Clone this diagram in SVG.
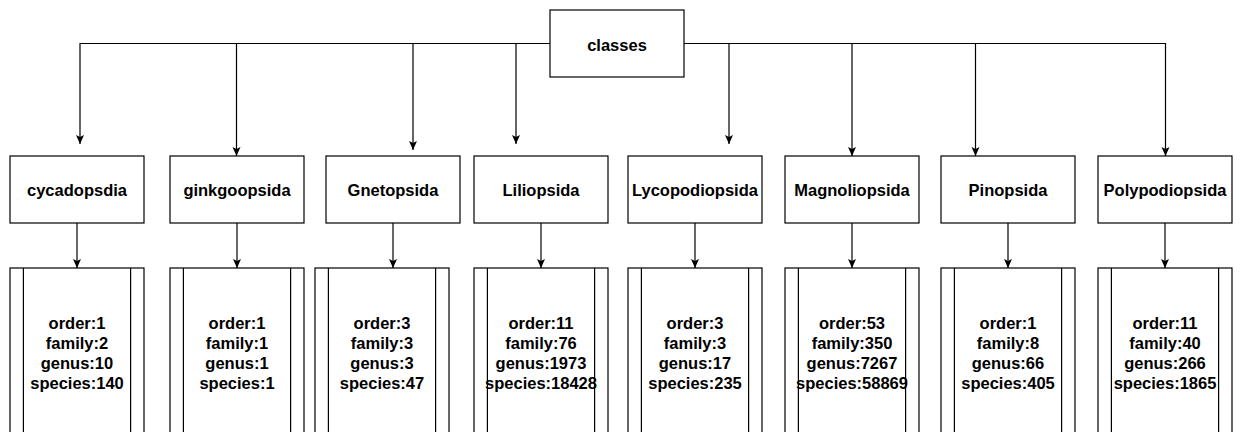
<svg xmlns="http://www.w3.org/2000/svg" width="1240" height="432" viewBox="0 0 1240 432">
<style>
.box{fill:#fff;stroke:#000;stroke-width:1.2}
.in{fill:none;stroke:#000;stroke-width:1.2}
.lbl{font-family:"Liberation Sans",Arial,Helvetica,sans-serif;font-weight:bold;font-size:16.5px;fill:#000;text-anchor:middle}
.edge{fill:none;stroke:#000;stroke-width:1.2}
</style>
<defs>
<marker id="arr" markerUnits="userSpaceOnUse" markerWidth="10" markerHeight="10" refX="9" refY="4" orient="auto">
<path d="M0,0 L9,4 L0,8 L2,4 z" fill="#000"/>
</marker>
</defs>
<rect width="1240" height="432" fill="#fff"/>
<g id="connectors">
<path class="edge" d="M550,43.5 H80 V144" marker-end="url(#arr)"/>
<path class="edge" d="M550,43.5 H236.5 V156" marker-end="url(#arr)"/>
<path class="edge" d="M550,43.5 H413 V150" marker-end="url(#arr)"/>
<path class="edge" d="M550,43.5 H516 V144" marker-end="url(#arr)"/>
<path class="edge" d="M684,43.5 H729 V144" marker-end="url(#arr)"/>
<path class="edge" d="M684,43.5 H852 V156" marker-end="url(#arr)"/>
<path class="edge" d="M684,43.5 H975.5 V156" marker-end="url(#arr)"/>
<path class="edge" d="M684,43.5 H1165.5 V156" marker-end="url(#arr)"/>
<path class="edge" d="M77,223 V268" marker-end="url(#arr)"/>
<path class="edge" d="M237,223 V268" marker-end="url(#arr)"/>
<path class="edge" d="M393,223 V268" marker-end="url(#arr)"/>
<path class="edge" d="M541,223 V268" marker-end="url(#arr)"/>
<path class="edge" d="M695,223 V268" marker-end="url(#arr)"/>
<path class="edge" d="M852,223 V268" marker-end="url(#arr)"/>
<path class="edge" d="M1008,223 V268" marker-end="url(#arr)"/>
<path class="edge" d="M1165,223 V268" marker-end="url(#arr)"/>
</g>
<g id="classes">
<rect class="box" x="550" y="10" width="134" height="67"/>
<text class="lbl" x="617" y="51">classes</text>
</g>
<g id="cycadopsdia"><rect class="box" x="10" y="156" width="134" height="67"/><text class="lbl" x="77" y="196">cycadopsdia</text></g>
<g id="ginkgoopsida"><rect class="box" x="170" y="156" width="134" height="67"/><text class="lbl" x="237" y="196">ginkgoopsida</text></g>
<g id="gnetopsida"><rect class="box" x="326" y="156" width="134" height="67"/><text class="lbl" x="393" y="196">Gnetopsida</text></g>
<g id="liliopsida"><rect class="box" x="474" y="156" width="134" height="67"/><text class="lbl" x="541" y="196">Liliopsida</text></g>
<g id="lycopodiopsida"><rect class="box" x="628" y="156" width="134" height="67"/><text class="lbl" x="695" y="196">Lycopodiopsida</text></g>
<g id="magnoliopsida"><rect class="box" x="785" y="156" width="134" height="67"/><text class="lbl" x="852" y="196">Magnoliopsida</text></g>
<g id="pinopsida"><rect class="box" x="941" y="156" width="134" height="67"/><text class="lbl" x="1008" y="196">Pinopsida</text></g>
<g id="polypodiopsida"><rect class="box" x="1098" y="156" width="134" height="67"/><text class="lbl" x="1165" y="196">Polypodiopsida</text></g>
<g id="stats-cycadopsdia"><rect class="box" x="10" y="268" width="134" height="170"/><path class="in" d="M23.4,268 V438 M130.6,268 V438"/>
<text class="lbl" x="77"><tspan x="77" y="329">order:1</tspan><tspan x="77" y="349">family:2</tspan><tspan x="77" y="369">genus:10</tspan><tspan x="77" y="389">species:140</tspan></text></g>
<g id="stats-ginkgoopsida"><rect class="box" x="170" y="268" width="134" height="170"/><path class="in" d="M183.4,268 V438 M290.6,268 V438"/>
<text class="lbl" x="237"><tspan x="237" y="329">order:1</tspan><tspan x="237" y="349">family:1</tspan><tspan x="237" y="369">genus:1</tspan><tspan x="237" y="389">species:1</tspan></text></g>
<g id="stats-gnetopsida"><rect class="box" x="315" y="268" width="134" height="170"/><path class="in" d="M328.4,268 V438 M435.6,268 V438"/>
<text class="lbl" x="382"><tspan x="382" y="329">order:3</tspan><tspan x="382" y="349">family:3</tspan><tspan x="382" y="369">genus:3</tspan><tspan x="382" y="389">species:47</tspan></text></g>
<g id="stats-liliopsida"><rect class="box" x="474" y="268" width="134" height="170"/><path class="in" d="M487.4,268 V438 M594.6,268 V438"/>
<text class="lbl" x="541"><tspan x="541" y="329">order:11</tspan><tspan x="541" y="349">family:76</tspan><tspan x="541" y="369">genus:1973</tspan><tspan x="541" y="389">species:18428</tspan></text></g>
<g id="stats-lycopodiopsida"><rect class="box" x="628" y="268" width="134" height="170"/><path class="in" d="M641.4,268 V438 M748.6,268 V438"/>
<text class="lbl" x="695"><tspan x="695" y="329">order:3</tspan><tspan x="695" y="349">family:3</tspan><tspan x="695" y="369">genus:17</tspan><tspan x="695" y="389">species:235</tspan></text></g>
<g id="stats-magnoliopsida"><rect class="box" x="785" y="268" width="134" height="170"/><path class="in" d="M798.4,268 V438 M905.6,268 V438"/>
<text class="lbl" x="852"><tspan x="852" y="329">order:53</tspan><tspan x="852" y="349">family:350</tspan><tspan x="852" y="369">genus:7267</tspan><tspan x="852" y="389">species:58869</tspan></text></g>
<g id="stats-pinopsida"><rect class="box" x="941" y="268" width="134" height="170"/><path class="in" d="M954.4,268 V438 M1061.6,268 V438"/>
<text class="lbl" x="1008"><tspan x="1008" y="329">order:1</tspan><tspan x="1008" y="349">family:8</tspan><tspan x="1008" y="369">genus:66</tspan><tspan x="1008" y="389">species:405</tspan></text></g>
<g id="stats-polypodiopsida"><rect class="box" x="1098" y="268" width="134" height="170"/><path class="in" d="M1111.4,268 V438 M1218.6,268 V438"/>
<text class="lbl" x="1165"><tspan x="1165" y="329">order:11</tspan><tspan x="1165" y="349">family:40</tspan><tspan x="1165" y="369">genus:266</tspan><tspan x="1165" y="389">species:1865</tspan></text></g>
</svg>
